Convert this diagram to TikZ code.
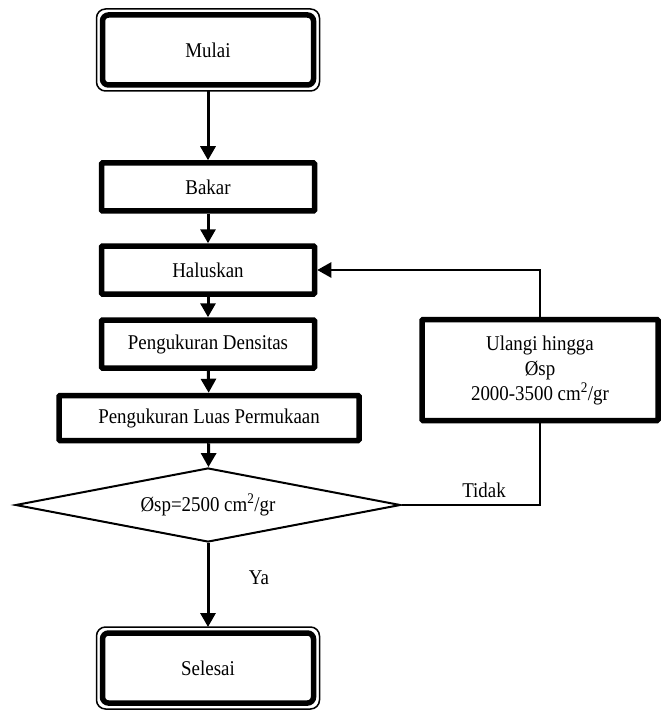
\documentclass[tikz,border=0pt]{standalone}
\usepackage{fontspec}
\setmainfont[FakeStretch=0.9]{Liberation Serif}
\usepackage{tikz}
\usetikzlibrary{arrows.meta,shapes.geometric}

\newcommand{\hurufbagan}{\fontsize{21}{25}\selectfont}
\tikzset{
  proses/.style = {draw, line width=5.5pt, rounded corners=1pt, inner sep=0pt,
                   minimum width=213pt, minimum height=48pt},
  terminal/.style = {draw, line width=5.5pt, rounded corners=6pt, inner sep=0pt,
                     outer sep=6pt, minimum width=211pt, minimum height=70pt},
  panah/.style = {line width=3pt, -{Triangle[length=14pt,width=15pt]}},
  garis/.style = {line width=2pt}
}

\begin{document}
\begin{tikzpicture}[x=1pt, y=-1pt, font=\hurufbagan]
\useasboundingbox (0,0) rectangle (665,711);

\node[terminal] (mulai) at (208, 50) {Mulai};
\draw[line width=1.5pt, rounded corners=9pt] (mulai.north west) rectangle (mulai.south east);

\node[proses] (bakar) at (208, 187) {Bakar};
\node[proses] (haluskan) at (208, 270) {Haluskan};
\node[proses] (densitas) at (208, 344) {Pengukuran Densitas};
\node[proses, minimum width=300pt, minimum height=45pt] (luas) at (209, 418)
  {Pengukuran Luas Permukaan};

\node[draw, garis, diamond, aspect=5.2, inner sep=0pt, minimum width=385pt, minimum height=74pt]
  (cek) at (208, 505) {Øsp=2500 cm\textsuperscript{2}/gr};

\node[proses, minimum width=236pt, minimum height=101pt, align=center] (ulangi)
  at (540, 370) {Ulangi hingga\\Øsp\\2000-3500 cm\textsuperscript{2}/gr};

\node[terminal] (selesai) at (208, 668) {Selesai};
\draw[line width=1.5pt, rounded corners=9pt] (selesai.north west) rectangle (selesai.south east);

\draw[panah] (mulai) -- (bakar);
\draw[panah] (bakar) -- (haluskan);
\draw[panah] (haluskan) -- (densitas);
\draw[panah] (densitas) -- (luas);
\draw[panah] (luas) -- (cek);
\draw[panah] (cek) -- (selesai);
\node (ya) at (259, 578) {Ya};

\draw[garis] (cek.east) -| (ulangi.south);
\node (tidak) at (484, 490) {Tidak};
\draw[line width=2.5pt, -{Triangle[length=14pt,width=15pt]}] (ulangi.north) |- (haluskan.east);
\end{tikzpicture}
\end{document}
